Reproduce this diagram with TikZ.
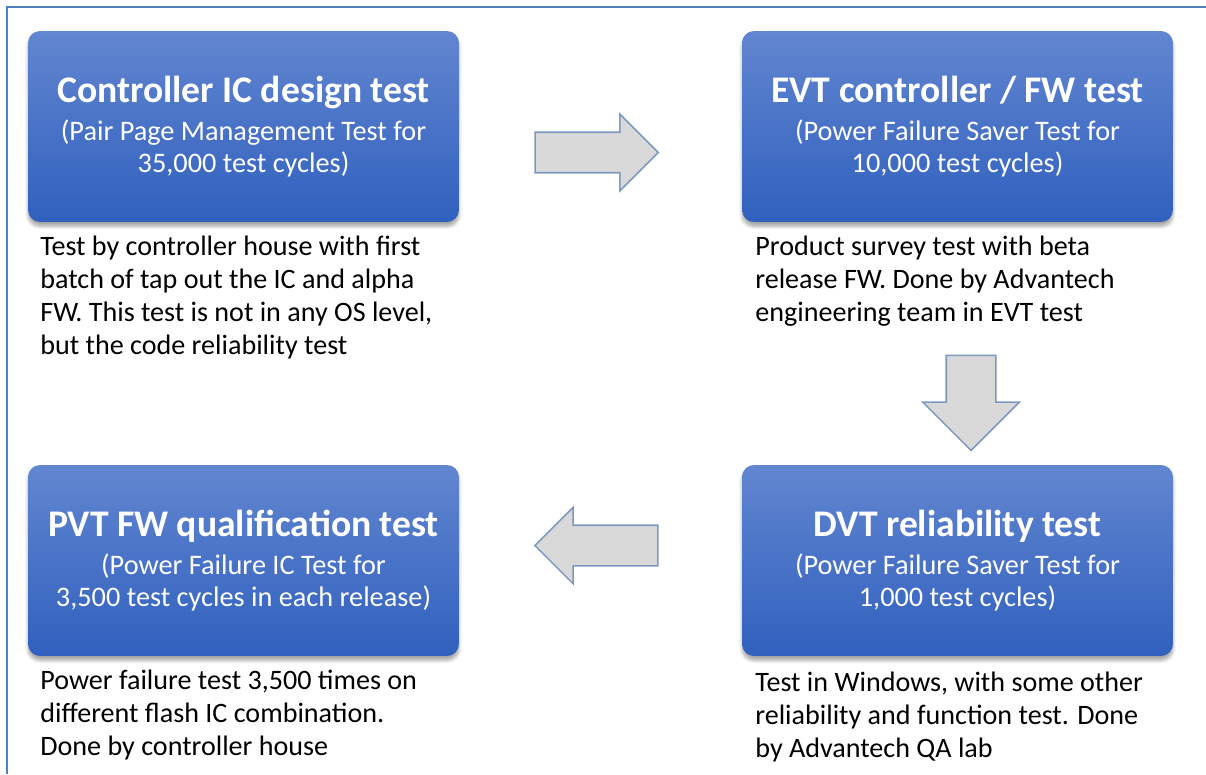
\documentclass[tikz,border=0pt]{standalone}
\usepackage{fontspec}
\setmainfont{Carlito}
\usetikzlibrary{shapes.arrows,shadows.blur}
\definecolor{frameblue}{RGB}{79,129,189}
\definecolor{boxtop}{RGB}{98,134,208}
\definecolor{boxbot}{RGB}{48,96,190}
\definecolor{arrowfill}{RGB}{217,217,217}
\definecolor{arrowedge}{RGB}{124,152,192}
\newcommand{\stagetitle}[1]{{\bfseries\fontsize{21.4}{26}\selectfont #1}}
\begin{document}
\begin{tikzpicture}[x=0.02cm,y=-0.02cm,
  stagebox/.style={rounded corners=0.24cm,minimum width=8.62cm,minimum height=3.82cm,inner sep=0pt,
    top color=boxtop,bottom color=boxbot,text=white,align=center,font=\fontsize{16.1}{18.2}\selectfont,
    blur shadow={shadow xshift=0pt,shadow yshift=-2.5pt,shadow blur steps=6,shadow opacity=35}},
  note/.style={anchor=north west,align=left,inner sep=0pt,font=\fontsize{16}{18.8}\selectfont},
  blockarrow/.style={single arrow,draw=arrowedge,fill=arrowfill,line width=0.9pt,inner xsep=0pt,inner ysep=0.39cm,
    minimum height=2.46cm,minimum width=1.5cm,single arrow head extend=0.36cm}]
\useasboundingbox (0,0) rectangle (1206,774);
\draw[frameblue,line width=1.2pt] (7,774) -- (7,7) -- (1206,7);
% the four test stages
\node[stagebox] (icdesign) at (243.5,126.5) {\stagetitle{Controller IC design test}\\[3.5pt] (Pair Page Management Test for\\ 35,000 test cycles)};
\node[stagebox] (evttest) at (957.5,126.5) {\stagetitle{EVT controller / FW test}\\[3.5pt] (Power Failure Saver Test for\\ 10,000 test cycles)};
\node[stagebox] (dvttest) at (957.5,560.5) {\stagetitle{DVT reliability test}\\[3.5pt] (Power Failure Saver Test for\\ 1,000 test cycles)};
\node[stagebox] (pvttest) at (243.5,560.5) {\stagetitle{PVT FW qualification test}\\[3.5pt] (Power Failure IC Test for\\ 3,500 test cycles in each release)};
% notes under each stage
\node[note] (icnote) at (40,236) {Test by controller house with first\\ batch of tap out the IC and alpha\\ FW. This test is not in any OS level,\\ but the code reliability test};
\node[note] (evtnote) at (755,236) {Product survey test with beta\\ release FW. Done by Advantech\\ engineering team in EVT test};
\node[note] (dvtnote) at (755,672) {Test in Windows, with some other\\ reliability and function test. Done\\ by Advantech QA lab};
\node[note] (pvtnote) at (40,670) {Power failure test 3,500 times on\\ different flash IC combination.\\ Done by controller house};
% block arrows between stages
\node[blockarrow] (toevt) at (586.5,152.5) {};
\node[blockarrow,rotate=-90,minimum height=1.9cm,minimum width=1.9cm,inner ysep=0.48cm,single arrow head extend=0.47cm] (todvt) at (971,390.5) {};
\node[blockarrow,rotate=180] (topvt) at (606.5,545.5) {};
\end{tikzpicture}
\end{document}
